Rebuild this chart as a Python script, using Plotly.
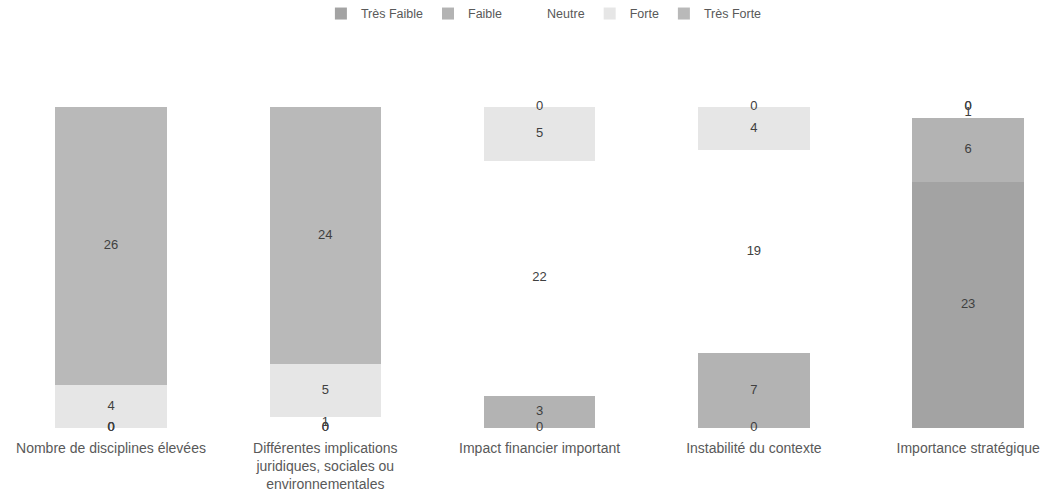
import plotly.graph_objects as go

# Categories (x axis) and stacked response counts per level
categories = [
    "Nombre de disciplines élevées",
    "Différentes implications<br>juridiques, sociales ou<br>environnementales",
    "Impact financier important",
    "Instabilité du contexte",
    "Importance stratégique",
]
series_names = ["Très Faible", "Faible", "Neutre", "Forte", "Très Forte"]
tres_faible = [0, 0, 0, 0, 23]
faible = [0, 0, 3, 7, 6]
neutre = [0, 1, 22, 19, 1]
forte = [4, 5, 5, 4, 0]
tres_forte = [26, 24, 0, 0, 0]
series_colors = ["#a3a3a3", "#b3b3b3", "#ffffff", "#e6e6e6", "#b9b9b9"]

values = [tres_faible, faible, neutre, forte, tres_forte]

font_family = "Liberation Sans Narrow, Liberation Sans, Arial, sans-serif"
x_idx = list(range(len(categories)))

fig = go.Figure()
for name, vals, col in zip(series_names, values, series_colors):
    fig.add_trace(go.Bar(
        name=name, x=x_idx, y=vals, marker=dict(color=col, line=dict(width=0)),
        width=0.52, hoverinfo="skip",
    ))

# Value labels centred in each stacked segment
base = [0] * len(categories)
lab_x, lab_y, lab_t = [], [], []
for vals in values:
    for i, v in enumerate(vals):
        lab_x.append(i)
        lab_y.append(base[i] + v / 2)
        lab_t.append(str(v))
        base[i] += v
fig.add_trace(go.Scatter(
    x=lab_x, y=lab_y, text=lab_t, mode="text", showlegend=False,
    textfont=dict(family=font_family, size=13, color="#404040"),
    cliponaxis=False, hoverinfo="skip",
))

fig.update_layout(
    barmode="stack",
    width=1050, height=500,
    margin=dict(l=0, r=0, t=107, b=72, autoexpand=False),
    paper_bgcolor="white", plot_bgcolor="white",
    font=dict(family=font_family, size=12, color="#595959"),
    legend=dict(
        orientation="h", x=0.518, xanchor="center", y=1.29, yanchor="middle",
        font=dict(size=12.5, color="#595959"), traceorder="normal",
        itemwidth=30,
    ),
    xaxis=dict(
        range=[-0.518, 4.382], tickmode="array", tickvals=x_idx,
        ticktext=categories, showgrid=False, zeroline=False, showline=False,
        ticks="", tickfont=dict(size=14, color="#595959"), ticklabelstandoff=10,
    ),
    yaxis=dict(range=[0, 30], visible=False),
)

fig.write_html("out.html")
